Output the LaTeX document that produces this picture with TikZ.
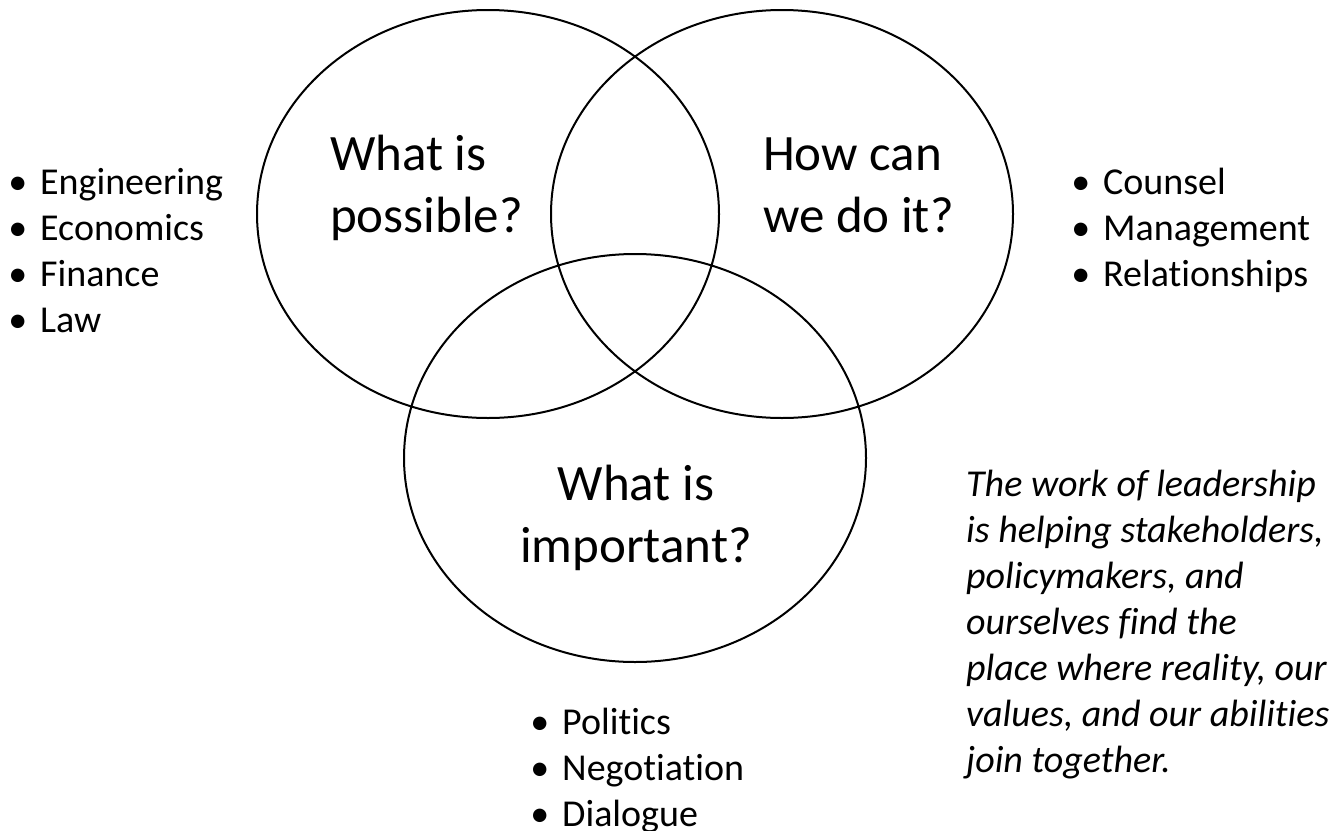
\documentclass[tikz,border=0pt]{standalone}
\usepackage{fontspec}
\setmainfont{Carlito}[Ligatures=NoCommon]
\usetikzlibrary{shapes.geometric}
\begin{document}
\begin{tikzpicture}[x=1pt,y=-1pt,
  set/.style={draw,ellipse,line width=2pt,minimum width=462pt,minimum height=408pt,inner sep=0pt},
  question/.style={font=\fontsize{51}{62}\selectfont,inner sep=0pt},
  item/.style={font=\fontsize{38}{46}\selectfont,anchor=base west,inner sep=0pt},
  note/.style={font=\fontsize{38}{46}\selectfont\itshape,anchor=base west,inner sep=0pt}]
\useasboundingbox (0,0) rectangle (1335,830);

% the three overlapping sets
\node[set] (possible)  at (488,214) {};
\node[set] (how)       at (782,214) {};
\node[set] (important) at (635,458) {};

% questions inside the sets
\node[question,anchor=base west] (q1a) at (330,170) {What is};
\node[question,anchor=base west] (q1b) at (330,232) {possible?};
\node[question,anchor=base west] (q2a) at (763,170) {How can};
\node[question,anchor=base west] (q2b) at (763,232) {we do it?};
\node[question,anchor=base] (q3a) at (636,500) {What is};
\node[question,anchor=base] (q3b) at (636,562) {important?};

% bullet lists
\newcommand{\bul}{\llap{•\hspace{13pt}}}
\foreach \t [count=\i] in {Engineering,Economics,Finance,Law}
  \node[item] (left\i) at (40,{194+46*(\i-1)}) {\bul\t};
\foreach \t [count=\i] in {Counsel,Management,Relationships}
  \node[item] (right\i) at (1103,{194+46*(\i-1)}) {\bul\t};
\foreach \t [count=\i] in {Politics,Negotiation,Dialogue}
  \node[item] (bottom\i) at (562,{734+46*(\i-1)}) {\bul\t};

% closing statement
\foreach \t [count=\i] in {The work of leadership,is helping stakeholders{,},policymakers{,} and,ourselves find the,place where reality{,} our,values{,} and our abilities,join together.}
  \node[note] (note\i) at (966,{496+46*(\i-1)}) {\t};
\end{tikzpicture}
\end{document}
